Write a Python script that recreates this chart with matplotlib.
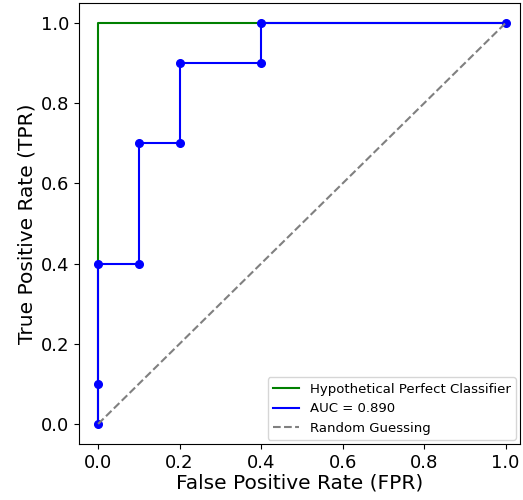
import matplotlib
matplotlib.use("Agg")
import matplotlib.pyplot as plt

# ROC points
fpr = [0.0, 0.0, 0.0, 0.1, 0.1, 0.2, 0.2, 0.4, 0.4, 1.0]
tpr = [0.0, 0.1, 0.4, 0.4, 0.7, 0.7, 0.9, 0.9, 1.0, 1.0]
perfect_fpr = [0.0, 0.0, 1.0]
perfect_tpr = [0.0, 1.0, 1.0]
diag = [0.0, 1.0]

# trapezoid area under the step curve
auc = sum((fpr[i + 1] - fpr[i]) * (tpr[i + 1] + tpr[i]) / 2 for i in range(len(fpr) - 1))

fig = plt.figure(figsize=(5.23, 5.0), dpi=100)
ax = fig.add_axes([0.151, 0.112, 0.843, 0.882])

ax.plot(perfect_fpr, perfect_tpr, color="green", label="Hypothetical Perfect Classifier")
ax.plot(fpr, tpr, color="blue", label=f"AUC = {auc:.3f}")
ax.plot(fpr, tpr, "o", color="blue", markersize=5.5)
ax.plot(diag, diag, "--", color="gray", label="Random Guessing")

ax.set_xlim(-0.047, 1.035)
ax.set_ylim(-0.05, 1.05)
ax.set_xticks([0.0, 0.2, 0.4, 0.6, 0.8, 1.0])
ax.set_yticks([0.0, 0.2, 0.4, 0.6, 0.8, 1.0])
ax.tick_params(labelsize=13)
ax.set_xlabel("False Positive Rate (FPR)", fontsize=14.5, labelpad=1)
ax.set_ylabel("True Positive Rate (TPR)", fontsize=14.5, labelpad=3)
ax.legend(loc="lower right", fontsize=9.5, borderaxespad=0.3)

fig.savefig("out.png")
